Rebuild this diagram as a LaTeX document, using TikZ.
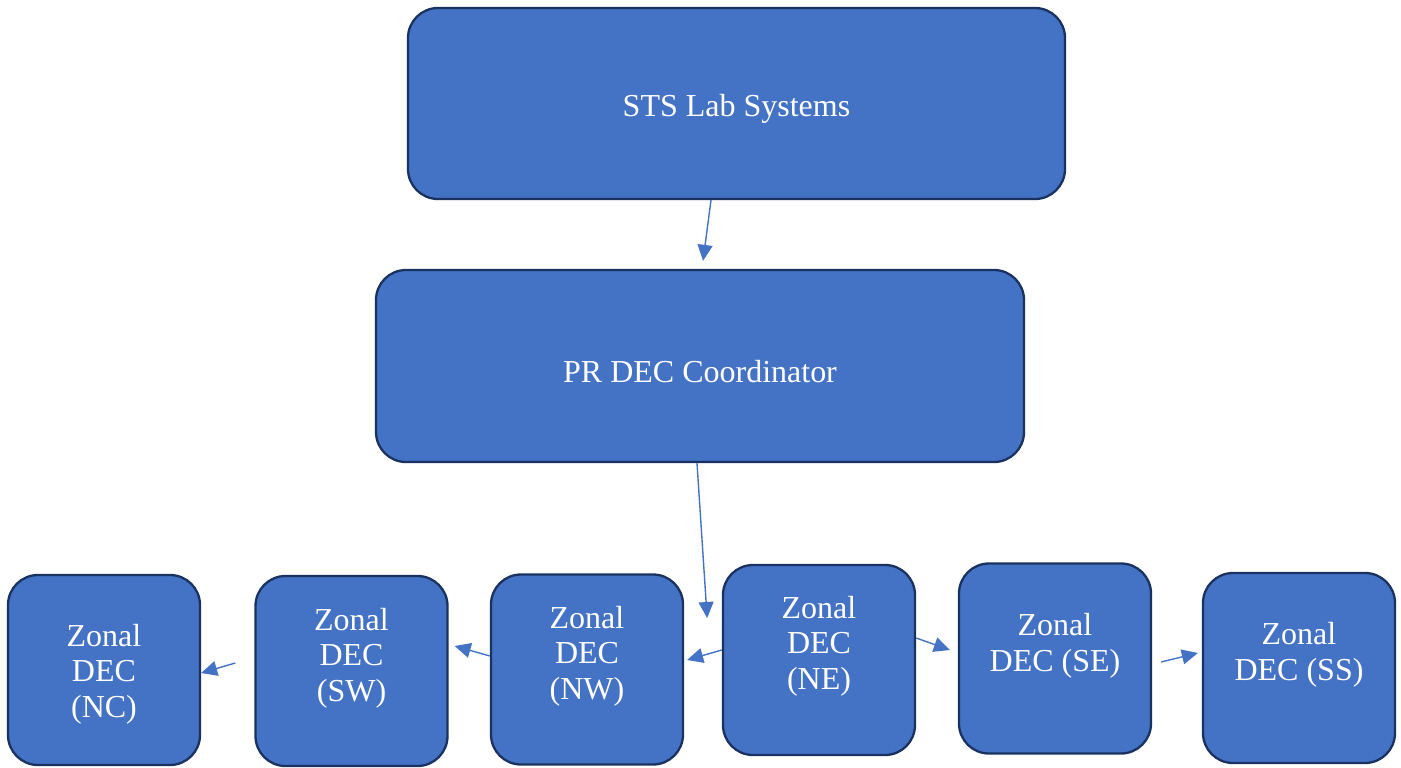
\documentclass[tikz,border=0pt]{standalone}
\usepackage{fontspec}
\setmainfont{Liberation Serif}
\usetikzlibrary{arrows.meta}
\definecolor{boxfill}{HTML}{4472C4}
\definecolor{boxedge}{HTML}{1A3260}
\begin{document}
\begin{tikzpicture}[x=1pt,y=-1pt,
  unit/.style={draw=boxedge, fill=boxfill, line width=2.3pt, rounded corners=30pt, inner sep=0pt},
  zone/.style={unit, minimum width=192pt, minimum height=190pt},
  caption/.style={text=white, font=\fontsize{32}{35.5}\selectfont, align=center, inner sep=0pt},
  link/.style={draw=boxfill, line width=1.4pt, -{Triangle[length=16pt,width=15pt]}}]
\useasboundingbox (0,0) rectangle (1401,768);

% top two levels
\node[unit, minimum width=657pt, minimum height=191pt] (sts) at (736.5,103.5) {};
\node[caption] (ststext) at (736.5,109) {STS Lab Systems};
\node[unit, minimum width=648pt, minimum height=192pt] (pr) at (700,366) {};
\node[caption] (prtext) at (700,372) {PR DEC Coordinator};

% zonal offices
\node[zone] (nc) at (104,670) {};
\node[caption] (nctext) at (104,674) {Zonal\\DEC\\(NC)};
\node[zone] (sw) at (351.5,671) {};
\node[caption] (swtext) at (351.5,658) {Zonal\\DEC\\(SW)};
\node[zone] (nw) at (587,669.5) {};
\node[caption] (nwtext) at (587,656) {Zonal\\DEC\\(NW)};
\node[zone] (ne) at (819,660) {};
\node[caption] (netext) at (819,646) {Zonal\\DEC\\(NE)};
\node[zone] (se) at (1055,658.5) {};
\node[caption] (setext) at (1055,646) {Zonal\\DEC (SE)};
\node[zone] (ss) at (1299,668) {};
\node[caption] (sstext) at (1299,655) {Zonal\\DEC (SS)};

% arrows
\draw[link] ([xshift=-25.5pt]sts.south) -- ([xshift=3pt,yshift=8pt]pr.north);
\draw[link] ([xshift=-3pt]pr.south) -- ([xshift=23pt,yshift=51.5pt]nw.east);
\draw[link] ([yshift=10pt]ne.west) -- ([xshift=3pt,yshift=9.5pt]nw.east);
\draw[link] ([yshift=13.5pt]nw.west) -- ([xshift=6pt,yshift=25pt]sw.east);
\draw[link] ([xshift=-19pt,yshift=8pt]sw.west) -- ([yshift=-3pt]nc.east);
\draw[link] ([yshift=22pt]ne.east) -- ([xshift=-8pt,yshift=8.5pt]se.west);
\draw[link] ([xshift=9pt,yshift=-3.5pt]se.east) -- ([xshift=-4pt,yshift=15pt]ss.west);
\end{tikzpicture}
\end{document}
